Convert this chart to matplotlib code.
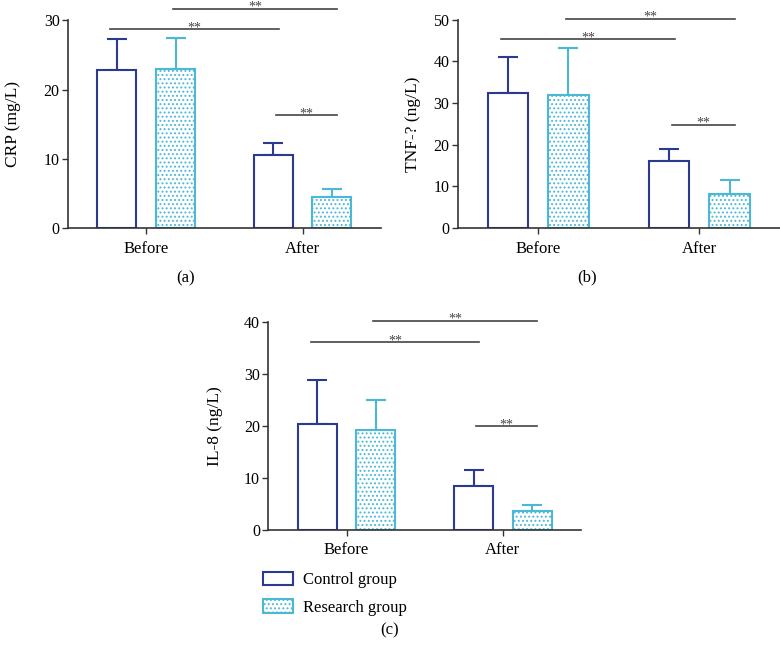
import matplotlib
matplotlib.use("Agg")
import matplotlib.pyplot as plt
from matplotlib.patches import Patch
import numpy as np

plt.rcParams['font.family'] = ['Liberation Serif', 'DejaVu Serif']
plt.rcParams['hatch.linewidth'] = 0.9

groups = ['Before', 'After']
series = ['Control group', 'Research group']

crp_control = [22.8, 10.6]
crp_control_err = [4.5, 1.7]
crp_research = [22.9, 4.5]
crp_research_err = [4.6, 1.2]

tnf_control = [32.5, 16.0]
tnf_control_err = [8.5, 2.9]
tnf_research = [31.9, 8.2]
tnf_research_err = [11.2, 3.4]

il8_control = [20.3, 8.5]
il8_control_err = [8.6, 3.0]
il8_research = [19.3, 3.6]
il8_research_err = [5.7, 1.1]

navy = '#2b3990'
cyan = '#4bb8d6'
gray = '#444444'

fig = plt.figure(figsize=(7.8, 6.47), dpi=100)


def panel(rect, ctrl, ctrl_err, res, res_err, ymax, ystep, ylabel, lpad, sig, caption, cap_xy):
    ax = fig.add_axes(rect)
    x = np.arange(len(groups))
    off = 0.1875
    w = 0.25
    ax.bar(x - off, ctrl, w, color='white', edgecolor=navy, linewidth=1.5, zorder=2)
    ax.bar(x + off, res, w, color='white', edgecolor=cyan, linewidth=1.5,
           hatch='....', zorder=2)
    ax.errorbar(x - off, ctrl, yerr=[np.zeros(2), ctrl_err], fmt='none',
                ecolor=navy, elinewidth=1.5, capsize=7, capthick=1.5, zorder=1)
    ax.errorbar(x + off, res, yerr=[np.zeros(2), res_err], fmt='none',
                ecolor=cyan, elinewidth=1.5, capsize=7, capthick=1.5, zorder=1)
    ax.set_xlim(-0.5, 1.5)
    ax.set_ylim(0, ymax)
    ax.set_yticks(np.arange(0, ymax + 1, ystep))
    ax.set_xticks(x)
    ax.set_xticklabels(groups, fontsize=12)
    ax.tick_params(axis='y', labelsize=11.5, length=4, width=1, color='#333333', pad=2)
    ax.tick_params(axis='x', length=4, width=1, color='#333333', pad=5)
    for s in ['top', 'right']:
        ax.spines[s].set_visible(False)
    for s in ['left', 'bottom']:
        ax.spines[s].set_color('#333333')
        ax.spines[s].set_linewidth(1.2)
    ax.set_ylabel(ylabel, fontsize=12.5, labelpad=lpad)
    for x0, x1, yv in sig:
        ax.plot([x0, x1], [yv, yv], color=gray, lw=1.2, clip_on=False)
        ax.annotate('**', xy=((x0 + x1) / 2, yv), xytext=(0, -1.5),
                    textcoords='offset points', ha='center', va='baseline',
                    fontsize=10, color=gray, annotation_clip=False)
    fig.text(cap_xy[0] / 780, 1 - cap_xy[1] / 647, caption, ha='center', va='center',
             fontsize=12)
    return ax


panel([0.0872, 0.6476, 0.401, 0.321], crp_control, crp_control_err,
      crp_research, crp_research_err, 30, 10, 'CRP (mg/L)', 16,
      [(-0.23, 0.85, 28.7), (0.17, 1.22, 31.7), (0.83, 1.22, 16.3)], '(a)', (186, 278))

panel([0.5868, 0.6476, 0.4132, 0.322], tnf_control, tnf_control_err,
      tnf_research, tnf_research_err, 50, 10, 'TNF-? (ng/L)', 9,
      [(-0.23, 0.85, 45.3), (0.17, 1.22, 50.2), (0.83, 1.22, 24.75)], '(b)', (587, 277))

panel([0.344, 0.181, 0.401, 0.3213], il8_control, il8_control_err,
      il8_research, il8_research_err, 40, 10, 'IL-8 (ng/L)', 15,
      [(-0.23, 0.85, 36.15), (0.17, 1.22, 40.25), (0.83, 1.22, 19.9)], '(c)', (390, 630))

handles = [Patch(facecolor='white', edgecolor=navy, linewidth=1.5),
           Patch(facecolor='white', edgecolor=cyan, linewidth=1.5, hatch='....')]
fig.legend(handles, series, loc='upper left', bbox_to_anchor=(263 / 780, 1 - 572 / 647),
           frameon=False, fontsize=12, handlelength=1.8, handleheight=0.85,
           handletextpad=0.6, labelspacing=0.65, borderaxespad=0, borderpad=0)

fig.savefig('out.png', dpi=100)
